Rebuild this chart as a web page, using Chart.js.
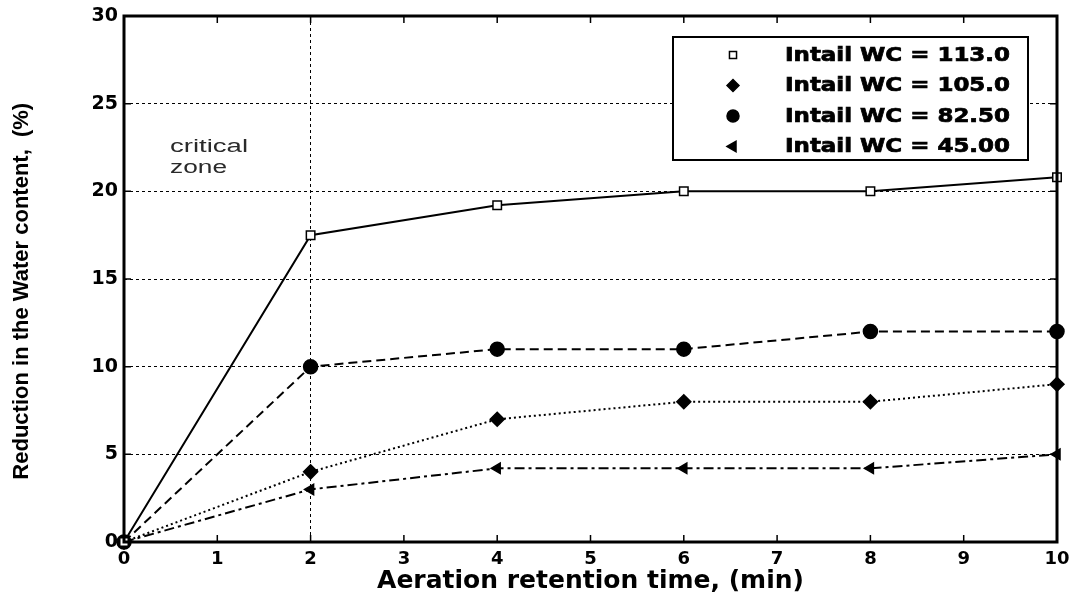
<!DOCTYPE html>
<html>
<head>
<meta charset="utf-8">
<script src="https://cdn.jsdelivr.net/npm/chart.js@4/dist/chart.umd.min.js"></script>
<style>
  html, body { margin: 0; padding: 0; background: #fff; }
  #wrap { width: 1072px; height: 603px; }
</style>
</head>
<body>
<div id="wrap"><canvas id="chart"></canvas></div>
<script>
// aeration time (min)
const times = [0, 2, 4, 6, 8, 10];
const labels = ["Intail WC = 113.0", "Intail WC = 105.0", "Intail WC = 82.50", "Intail WC = 45.00"];
const wc113 = [0, 17.5, 19.2, 20, 20, 20.8];
const wc105 = [0, 4, 7, 8, 8, 9];
const wc825 = [0, 10, 11, 11, 12, 12];
const wc45 = [0, 3, 4.2, 4.2, 4.2, 5];
const yTicks = [0, 5, 10, 15, 20, 25, 30];
const xTicks = [0, 1, 2, 3, 4, 5, 6, 7, 8, 9, 10];

const FONT = "'Liberation Sans', Arial, sans-serif";
const WIDE = "'DejaVu Sans', 'Liberation Sans', sans-serif";

function pts(vals) {
    return vals.map((v, i) => ({ x: times[i], y: v }));
}

const datasets = [
    { label: labels[0], data: pts(wc113), borderDash: [], pointStyle: 'rect', pointRadius: 6, pointBackgroundColor: '#fff', pointRotation: 0 },
    { label: labels[1], data: pts(wc105), borderDash: [2, 3], pointStyle: 'rectRot', pointRadius: 7, pointBackgroundColor: '#000', pointRotation: 0 },
    { label: labels[2], data: pts(wc825), borderDash: [9, 5], pointStyle: 'circle', pointRadius: 7, pointBackgroundColor: '#000', pointRotation: 0 },
    { label: labels[3], data: pts(wc45), borderDash: [10, 4, 3, 4], pointStyle: 'triangle', pointRadius: 6, pointBackgroundColor: '#000', pointRotation: -90 },
].map((d) => Object.assign(d, {
    borderColor: '#000',
    borderWidth: 2,
    pointBorderColor: '#000',
    pointBorderWidth: 1.5,
    tension: 0,
    clip: false,
    fill: false,
}));

// text squeezed/stretched to a given width
function wideText(ctx, text, x, y, w, heavy) {
    const m = ctx.measureText(text).width;
    ctx.save();
    ctx.translate(x, y);
    ctx.scale(w / m, 1);
    ctx.fillText(text, 0, 0);
    if (heavy) {
        ctx.lineWidth = heavy;
        ctx.strokeStyle = ctx.fillStyle;
        ctx.strokeText(text, 0, 0);
    }
    ctx.restore();
}

// frame, inward ticks, annotation text and legend box
const extras = {
    id: 'extras',
    afterDraw(chart) {
        const ctx = chart.ctx;
        const a = chart.chartArea;
        const xs = chart.scales.x, ys = chart.scales.y;
        ctx.save();
        ctx.strokeStyle = '#000';
        ctx.lineWidth = 1.5;
        xTicks.forEach((t) => {
            const px = xs.getPixelForValue(t);
            ctx.beginPath();
            ctx.moveTo(px, a.bottom); ctx.lineTo(px, a.bottom - 7);
            ctx.moveTo(px, a.top); ctx.lineTo(px, a.top + 7);
            ctx.stroke();
        });
        yTicks.forEach((t) => {
            const py = ys.getPixelForValue(t);
            ctx.beginPath();
            ctx.moveTo(a.left, py); ctx.lineTo(a.left + 7, py);
            ctx.moveTo(a.right, py); ctx.lineTo(a.right - 7, py);
            ctx.stroke();
        });
        ctx.lineWidth = 3;
        ctx.strokeRect(a.left, a.top, a.right - a.left, a.bottom - a.top);

        // annotation
        ctx.fillStyle = '#2a2a2a';
        ctx.font = '18px ' + FONT;
        ctx.textAlign = 'left';
        ctx.textBaseline = 'alphabetic';
        wideText(ctx, 'critical', 170, 152, 78);
        wideText(ctx, 'zone', 170, 173, 57);

        // legend
        const bx = 673, by = 37, bw = 355, bh = 123;
        ctx.fillStyle = '#fff';
        ctx.fillRect(bx, by, bw, bh);
        ctx.lineWidth = 2;
        ctx.strokeStyle = '#000';
        ctx.strokeRect(bx, by, bw, bh);
        ctx.font = 'bold 19px ' + WIDE;
        ctx.textBaseline = 'middle';
        chart.data.datasets.forEach((d, i) => {
            const cy = 55 + i * 30.5;
            ctx.fillStyle = d.pointBackgroundColor;
            ctx.strokeStyle = '#000';
            ctx.lineWidth = 1.5;
            Chart.helpers.drawPoint(ctx, {
                pointStyle: d.pointStyle,
                radius: d.pointStyle === 'rect' ? 5 : 6,
                rotation: d.pointRotation,
                borderWidth: 1.5,
            }, 733, cy);
            ctx.fillStyle = '#000';
            wideText(ctx, d.label, 785, cy + 1, 225, 0.7);
        });
        ctx.restore();
    }
};

new Chart(document.getElementById('chart'), {
    type: 'line',
    data: { datasets: datasets },
    options: {
        responsive: true,
        maintainAspectRatio: false,
        animation: false,
        layout: { padding: { top: 16, right: 15, left: 0, bottom: 0 } },
        plugins: {
            legend: { display: false },
            tooltip: { enabled: false },
        },
        scales: {
            x: {
                type: 'linear',
                min: 0,
                max: 10,
                afterFit: (s) => { s.height = 61; s.paddingLeft = 0; s.paddingRight = 0; },
                afterBuildTicks: (s) => { s.ticks = xTicks.map((v) => ({ value: v })); },
                ticks: { color: '#000', padding: 7, font: { family: WIDE, size: 18, weight: 'bold' } },
                grid: {
                    drawTicks: false,
                    lineWidth: 1,
                    color: (c) => (c.tick && c.tick.value === 2 ? '#000' : 'rgba(0,0,0,0)'),
                },
                border: { display: false, dash: [3, 3] },
                title: {
                    display: true,
                    text: 'Aeration retention time, (min)',
                    color: '#000',
                    padding: { top: 0, bottom: 7 },
                    font: { family: WIDE, size: 25, weight: 'bold' },
                },
            },
            y: {
                min: 0,
                max: 30,
                afterFit: (s) => { s.width = 124; s.paddingTop = 0; s.paddingBottom = 0; },
                afterBuildTicks: (s) => { s.ticks = yTicks.map((v) => ({ value: v })); },
                ticks: { color: '#000', padding: 6, font: { family: WIDE, size: 19, weight: 'bold' } },
                grid: {
                    drawTicks: false,
                    lineWidth: 1,
                    color: (c) => (c.tick && c.tick.value > 0 && c.tick.value < 30 ? '#000' : 'rgba(0,0,0,0)'),
                },
                border: { display: false, dash: [3, 3] },
                title: {
                    display: true,
                    text: 'Reduction in the Water content,  (%)    ',
                    color: '#000',
                    padding: { top: 9, bottom: 0 },
                    font: { family: FONT, size: 22, weight: 'bold' },
                },
            },
        },
    },
    plugins: [extras],
});
</script>
</body>
</html>
